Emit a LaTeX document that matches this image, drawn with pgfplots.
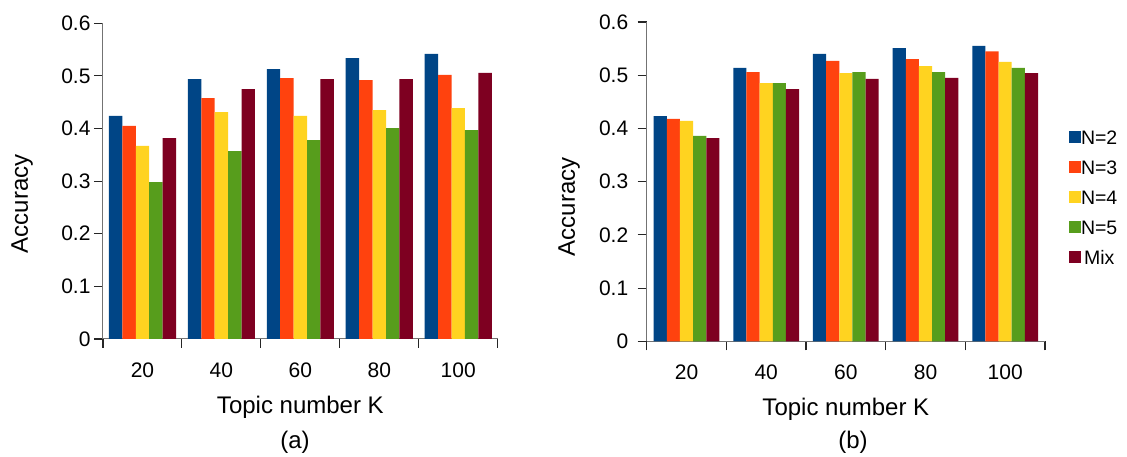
\documentclass[border=0pt]{standalone}
\usepackage{fontspec}
\setmainfont{Liberation Sans}
\usepackage{pgfplots}
\pgfplotsset{compat=1.18}
\definecolor{cA}{HTML}{004586}
\definecolor{cB}{HTML}{FF420E}
\definecolor{cC}{HTML}{FFD320}
\definecolor{cD}{HTML}{579D1C}
\definecolor{cE}{HTML}{7E0021}
\pgfplotsset{
  mybar/.style={
    scale only axis,
    clip=false,
    xmin=-0.5, xmax=4.5, ymin=0, ymax=0.6,
    ybar=0pt, bar width=0.17,
    axis x line*=bottom, axis y line*=left,
    axis line style={draw=black!55, line width=1pt, -},
    tick align=outside,
    tick style={draw=black!85, line width=1.1pt},
    major tick length=9pt,
    ytick={0,0.1,0.2,0.3,0.4,0.5,0.6},
    /pgf/number format/fixed,
    /pgf/number format/precision=1,
    /pgf/number format/assume math mode=true,
    yticklabel style={font=\fontsize{21}{22}\selectfont, anchor=east, inner sep=0pt, xshift=-3.3pt},
    xtick={-0.5,0.5,1.5,2.5,3.5,4.5},
    xticklabels={},
    extra x ticks={0,1,2,3,4},
    extra x tick labels={20,40,60,80,100},
    extra x tick style={major tick length=0pt,
      xticklabel style={font=\fontsize{21}{22}\selectfont, anchor=center, inner sep=0pt, yshift=-31pt}},
    xlabel={Topic number K},
    ylabel={Accuracy},
    label style={font=\fontsize{24}{24}\selectfont},
    xlabel style={at={(axis description cs:0.5,0)}, anchor=center, yshift=-68pt},
  },
  every axis plot/.append style={draw=none},
}
\begin{document}
\begin{tikzpicture}
\path[use as bounding box] (0,0) rectangle (1127pt,457pt);
% (a)
\begin{axis}[mybar,
  at={(103pt,118pt)}, anchor=south west,
  width=394.7pt, height=315.7pt,
  ylabel style={at={(axis description cs:-0.205,0.428)}, anchor=center},
]
\addplot[fill=cA] coordinates {(0,0.424) (1,0.494) (2,0.513) (3,0.534) (4,0.542)};
\addplot[fill=cB] coordinates {(0,0.405) (1,0.458) (2,0.496) (3,0.492) (4,0.502)};
\addplot[fill=cC] coordinates {(0,0.367) (1,0.431) (2,0.424) (3,0.435) (4,0.439)};
\addplot[fill=cD] coordinates {(0,0.298) (1,0.357) (2,0.378) (3,0.401) (4,0.397)};
\addplot[fill=cE] coordinates {(0,0.382) (1,0.475) (2,0.494) (3,0.494) (4,0.506)};
\node[font=\fontsize{24}{24}\selectfont] at (axis description cs:0.4865,0) [yshift=-103pt] {(a)};
\end{axis}
% (b)
\begin{axis}[mybar,
  at={(646.7pt,115.7pt)}, anchor=south west,
  width=398.3pt, height=319.3pt,
  bar width=0.165,
  yticklabel style={xshift=-6pt},
  ylabel style={at={(axis description cs:-0.195,0.421)}, anchor=center},
  legend image code/.code={\fill[#1] (0pt,-5.5pt) rectangle (12pt,6.5pt);},
  legend style={draw=none, fill=none, inner sep=0pt, outer sep=0pt,
    at={(axis description cs:1.0603,0.6586)}, anchor=north west,
    row sep=17pt, font=\fontsize{19.5}{20}\selectfont,
    nodes={inner sep=0pt, text height=13pt, text depth=0pt, font=\fontsize{19.5}{20}\selectfont},
    /tikz/every even column/.append style={column sep=7pt}},
]
\addplot[fill=cA] coordinates {(0,0.423) (1,0.514) (2,0.540) (3,0.551) (4,0.555)};
\addplot[fill=cB] coordinates {(0,0.418) (1,0.506) (2,0.527) (3,0.530) (4,0.545)};
\addplot[fill=cC] coordinates {(0,0.414) (1,0.485) (2,0.504) (3,0.517) (4,0.525)};
\addplot[fill=cD] coordinates {(0,0.386) (1,0.485) (2,0.506) (3,0.506) (4,0.514)};
\addplot[fill=cE] coordinates {(0,0.382) (1,0.474) (2,0.493) (3,0.495) (4,0.504)};
\legend{N=2,N=3,N=4,N=5,Mix}
\node[font=\fontsize{24}{24}\selectfont] at (axis description cs:0.518,0) [yshift=-100.7pt] {(b)};
\end{axis}
\end{tikzpicture}
\end{document}
